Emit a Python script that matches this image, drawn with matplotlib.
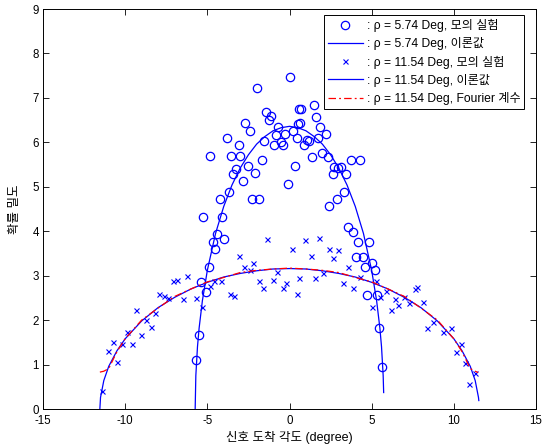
import matplotlib
matplotlib.use("Agg")
import matplotlib.pyplot as plt

plt.rcParams['font.family'] = ['Liberation Sans', 'Noto Sans CJK KR', 'DejaVu Sans']
plt.rcParams['axes.unicode_minus'] = False

# Simulation points, rho = 5.74 deg (circles)
sim1_x = [0.03, -1.96, -1.43, -1.14, -1.23, 0.60, -2.71, -2.39, -0.72, -3.80,
          -3.09, -0.82, -0.26, 0.19, 0.54, 0.44, -0.50, -0.94, -0.41, -1.55,
          -4.84, -3.54, -2.99, -1.69, -2.54, 0.33, -3.26, -3.46, -2.10, -2.81,
          1.49, 0.70, 1.59, 0.64, 1.86, 2.20, 1.75, 1.08, 1.17, 0.88,
          1.98, 2.33, 1.35, 3.74, 4.29, 2.73, 3.13, 2.97, 2.63, 3.44,
          -0.11, -3.68, -4.25, -2.28, -1.84, -5.28, -4.13, -4.39, -3.97, -4.67,
          -4.55, -4.92, -5.40, 3.32, 2.91, 2.42, 3.58, 3.88, 4.15, 4.86,
          4.05, 4.49, 5.02, 4.61, 5.19, -5.08, -5.51, -5.71, 4.74, 5.31,
          5.47, 5.65]
sim1_y = [7.46, 7.23, 6.68, 6.59, 6.50, 6.76, 6.44, 6.26, 6.35, 6.10,
          5.93, 6.17, 6.19, 6.25, 6.41, 6.09, 6.01, 5.94, 5.94, 6.03,
          5.70, 5.70, 5.70, 5.61, 5.46, 5.46, 5.39, 5.28, 5.30, 5.12,
          6.85, 6.74, 6.58, 6.44, 6.34, 6.18, 6.09, 6.05, 6.03, 5.93,
          5.77, 5.68, 5.68, 5.61, 5.61, 5.45, 5.45, 5.42, 5.28, 5.28,
          5.06, 4.88, 4.72, 4.72, 4.72, 4.32, 4.32, 3.93, 3.83, 3.76,
          3.59, 3.19, 2.86, 4.88, 4.72, 4.57, 4.09, 3.99, 3.76, 3.76,
          3.43, 3.43, 3.28, 3.20, 3.13, 2.63, 1.67, 1.10, 2.56, 2.56,
          1.82, 0.94]

# Simulation points, rho = 11.54 deg (crosses)
sim2_x = [-1.35, 0.13, -3.06, -2.20, -2.77, -6.22, -4.60, -1.84, -1.02, -0.21,
          0.58, -1.63, -0.41, -0.74, -2.40, -4.19, -4.84, 0.94, 1.81, 2.42,
          2.97, 1.29, 2.67, 3.58, 1.55, 2.06, 3.24, 4.29, 3.85, 5.26,
          -6.46, -5.69, -5.33, -3.62, -3.36, 0.44, 5.00, 5.87, 6.42, 6.62,
          6.16, 5.51, -7.07, -6.87, -7.92, -7.64, -7.38, -9.34, -8.73, -8.19,
          -8.45, -9.91, -9.06, -10.76, -9.60, -10.21, -11.03, -10.52, -11.39, 7.64,
          7.78, 6.97, 7.29, 8.14, 8.72, 8.39, 9.32, 9.83, 10.42, 10.13,
          10.68, 11.29, 10.94]
sim2_y = [3.83, 3.60, 3.45, 3.29, 3.19, 3.00, 2.88, 2.88, 2.91, 2.84,
          2.95, 2.73, 2.73, 3.09, 3.13, 2.88, 2.76, 3.80, 3.84, 3.60,
          3.57, 3.44, 3.40, 3.19, 2.95, 3.05, 2.84, 2.97, 2.73, 2.88,
          2.47, 2.50, 2.30, 2.59, 2.54, 2.59, 2.30, 2.66, 2.47, 2.34,
          2.23, 2.52, 2.88, 2.90, 2.58, 2.55, 2.50, 2.23, 2.00, 2.17,
          1.85, 1.74, 1.67, 1.50, 1.46, 1.46, 1.31, 1.05, 0.41, 2.69,
          2.74, 2.51, 2.39, 2.41, 1.96, 1.82, 1.74, 1.82, 1.46, 1.28,
          1.04, 0.82, 0.56]

# Theoretical curve, rho = 5.74 deg
th1_x = [-5.74, -5.70, -5.60, -5.50, -5.30, -5.0, -4.5, -4.0, -3.5, -3.0, -2.5, -2.0,
         -1.5, -1.0, -0.5, 0.0, 0.5, 1.0, 1.5, 2.0, 2.5, 3.0, 3.5, 4.0, 4.5,
         5.0, 5.30, 5.50, 5.60, 5.70, 5.73]
th1_y = [0.0, 0.75, 1.40, 1.82, 2.44, 3.12, 3.95, 4.56, 5.04, 5.42, 5.72, 5.96,
         6.13, 6.26, 6.33, 6.36, 6.33, 6.26, 6.13, 5.96, 5.72, 5.42, 5.04, 4.56, 3.95,
         3.12, 2.44, 1.82, 1.40, 0.75, 0.37]

# Theoretical curve, rho = 11.54 deg
th2_x = [-11.54, -11.5, -11.3, -11.0, -10.5, -10.0, -9.0, -8.0, -7.0, -6.0, -5.0,
         -4.0, -3.0, -2.0, -1.0, 0.0, 1.0, 2.0, 3.0, 4.0, 5.0, 6.0, 7.0, 8.0,
         9.0, 10.0, 10.5, 11.0, 11.3, 11.5, 11.52]
th2_y = [0.0, 0.26, 0.64, 0.96, 1.31, 1.58, 1.98, 2.28, 2.51, 2.70, 2.85,
         2.97, 3.05, 3.11, 3.15, 3.16, 3.15, 3.11, 3.05, 2.97, 2.85, 2.70, 2.51, 2.28,
         1.98, 1.58, 1.31, 0.96, 0.64, 0.26, 0.19]

# Fourier-series curve, rho = 11.54 deg
fo_x = [-11.54, -11.3, -11.0, -10.5, -10.0, -9.0, -8.0, -7.0, -6.0, -5.0, -4.0,
        -3.0, -2.0, -1.0, 0.0, 1.0, 2.0, 3.0, 4.0, 5.0, 6.0, 7.0, 8.0, 9.0,
        10.0, 10.5, 11.0, 11.3, 11.48]
fo_y = [0.83, 0.85, 0.91, 1.29, 1.58, 2.00, 2.27, 2.53, 2.70, 2.86, 2.96,
        3.07, 3.12, 3.15, 3.17, 3.15, 3.12, 3.07, 2.96, 2.86, 2.70, 2.53, 2.27, 2.00,
        1.58, 1.29, 0.91, 0.85, 0.82]

x_ticks = [-15, -10, -5, 0, 5, 10, 15]
y_ticks = [0, 1, 2, 3, 4, 5, 6, 7, 8, 9]

labels = [': \u03c1 = 5.74 Deg, 모의 실험',
          ': \u03c1 = 5.74 Deg, 이론값',
          ': \u03c1 = 11.54 Deg, 모의 실험',
          ': \u03c1 = 11.54 Deg, 이론값',
          ': \u03c1 = 11.54 Deg, Fourier 계수']

fig = plt.figure(figsize=(5.46, 4.46), dpi=100)
ax = fig.add_axes([43 / 546, 1 - 409 / 446, (536 - 43) / 546, (409 - 9) / 446])

blue = '#0000ff'
ax.plot(sim1_x, sim1_y, linestyle='none', marker='o', markersize=6.0,
        markerfacecolor='none', markeredgecolor=blue, markeredgewidth=0.9,
        label=labels[0])
ax.plot(th1_x, th1_y, color=blue, linewidth=0.9, label=labels[1])
ax.plot(sim2_x, sim2_y, linestyle='none', marker='x', markersize=3.6,
        color=blue, markeredgewidth=0.8, label=labels[2])
ax.plot(th2_x, th2_y, color=blue, linewidth=0.9, label=labels[3])
ax.plot(fo_x, fo_y, color='#ff0000', linewidth=0.9, linestyle=(0, (6, 2.5, 1.5, 2.5)),
        label=labels[4])

ax.set_xlim(-15, 15)
ax.set_ylim(0, 9)
ax.set_xticks(x_ticks)
ax.set_yticks(y_ticks)
ax.tick_params(direction='in', top=True, right=True, labelsize=8.3, length=4, width=0.6)
ax.tick_params(axis='x', pad=4)
ax.tick_params(axis='y', pad=3)
for s in ax.spines.values():
    s.set_linewidth(0.7)

ax.set_xlabel('신호 도착 각도 (degree)', fontsize=9, labelpad=3)
ax.set_ylabel('확률 밀도', fontsize=9, labelpad=8)

leg = ax.legend(loc='upper right', fontsize=8.7, frameon=True, fancybox=False,
                edgecolor='black', framealpha=1, handlelength=2.9, handletextpad=0.3,
                borderpad=0.35, labelspacing=0.42, borderaxespad=0.0,
                bbox_to_anchor=(0.9765, 0.985))
leg.get_frame().set_linewidth(0.7)

fig.savefig('out.png', dpi=100)
